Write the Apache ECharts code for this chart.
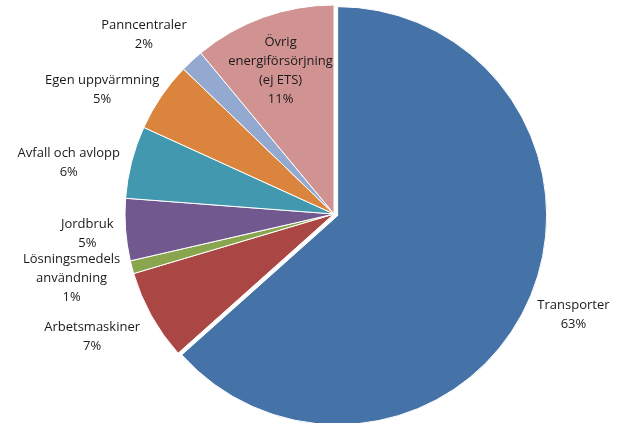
<!DOCTYPE html>
<html>
<head>
<meta charset="utf-8">
<script src="https://cdn.jsdelivr.net/npm/echarts@6/dist/echarts.min.js"></script>
<style>
html,body{margin:0;padding:0;background:#fff;}
#c{width:619px;height:423px;}
</style>
</head>
<body>
<div id="c"></div>
<script>
var categories = ['Transporter', 'Arbetsmaskiner', 'Lösningsmedels\nanvändning', 'Jordbruk', 'Avfall och avlopp', 'Egen uppvärmning', 'Panncentraler', 'Övrig\nenergiförsörjning\n(ej ETS)'];
var values = [63.4, 7.0, 1.0, 4.8, 5.6, 5.4, 1.8, 11.0];
var colors = ['#4572A7', '#AA4643', '#89A54E', '#71588F', '#4198AF', '#DB843D', '#93A9CF', '#D19392'];

var chart = echarts.init(document.getElementById('c'));
var data = categories.map(function (name, i) {
  var item = { name: name, value: values[i], itemStyle: { color: colors[i] } };
  if (i === 0) item.selected = true;
  if (i === 7) item.label = { position: 'inside' };
  return item;
});
// label fine-tuning (dx, dy) to mimic the original label placement
var nudges = { 0: [-2, 9], 1: [-1, 15], 2: [0, 8], 3: [0, 3], 4: [0, 4], 5: [8, 0], 6: [3, -17], 7: [-17, -42] };
chart.setOption({
  animation: false,
  series: [{
    type: 'pie',
    center: [334, 214],
    radius: 209,
    startAngle: 90,
    clockwise: true,
    selectedMode: 'single',
    selectedOffset: 4,
    avoidLabelOverlap: false,
    percentPrecision: 0,
    itemStyle: { borderColor: '#fff', borderWidth: 1 },
    emphasis: { disabled: true },
    labelLine: { show: false, length: 12, length2: 0 },
    label: {
      show: true,
      position: 'outside',
      distanceToLabelLine: 0,
      color: '#1a1a1a',
      fontFamily: 'Open Sans',
      fontSize: 13,
      lineHeight: 19,
      formatter: function (p) {
        var lines = (p.name + '\n' + p.percent + '%').split('\n');
        return lines.map(function (l) { return '{t|' + l + '}'; }).join('\n');
      },
      rich: { t: { align: 'center', fontFamily: 'Open Sans', fontSize: 13, lineHeight: 19, color: '#1a1a1a' } }
    },
    labelLayout: function (p) {
      var n = nudges[p.dataIndex];
      if (n) return { dx: n[0], dy: n[1] };
    },
    data: data
  }]
});
</script>
</body>
</html>
